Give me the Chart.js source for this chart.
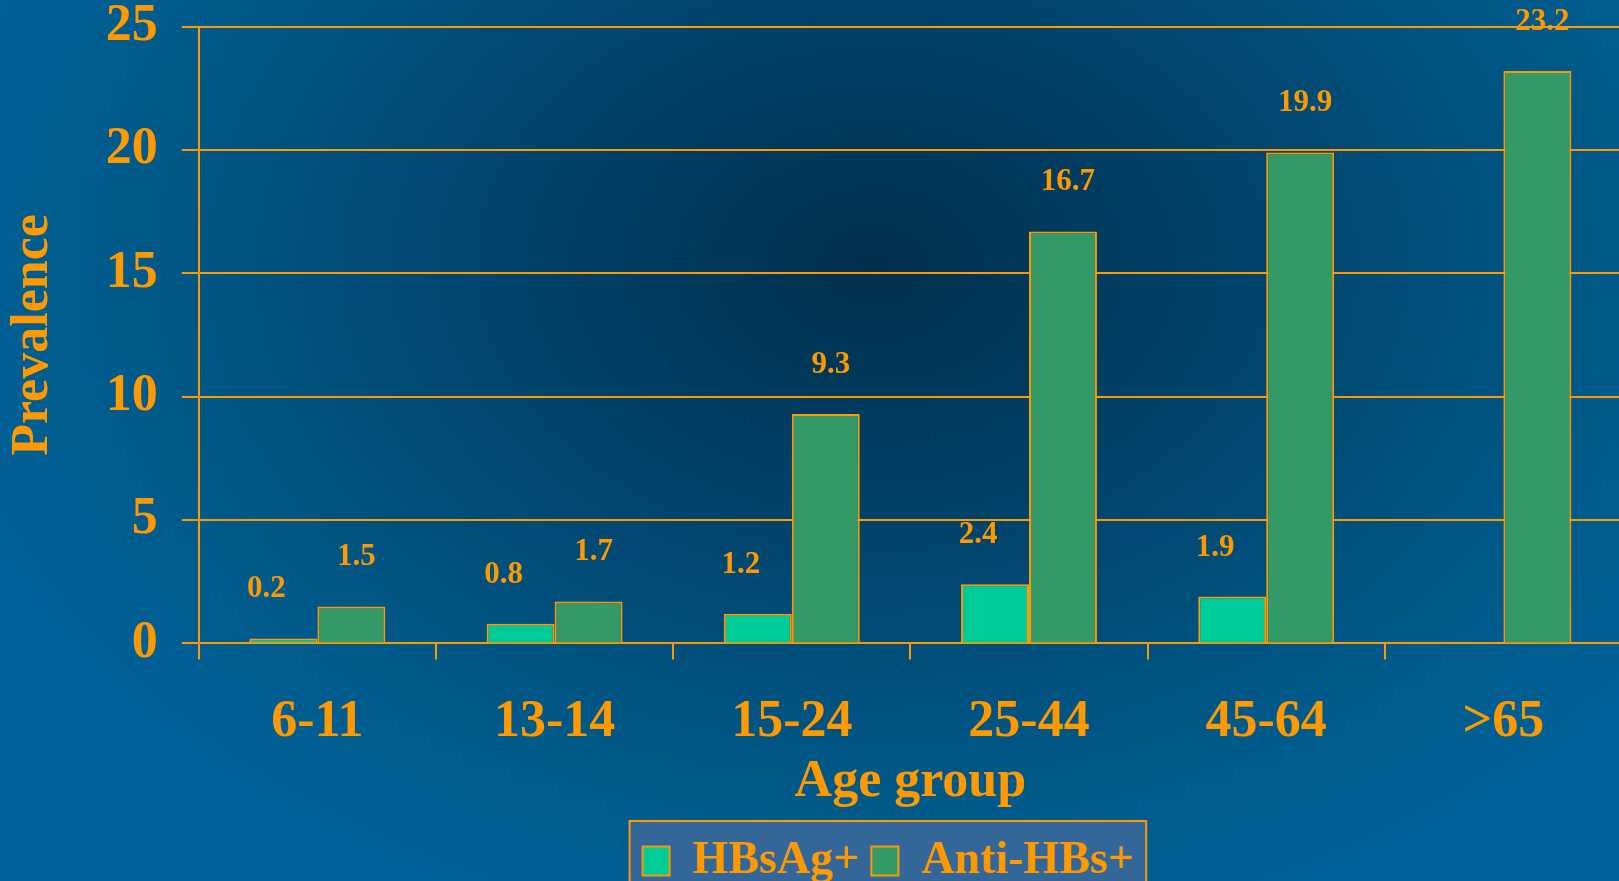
<!DOCTYPE html>
<html>
<head>
<meta charset="utf-8">
<title>Prevalence by age group</title>
<script src="https://cdn.jsdelivr.net/npm/chart.js@4.4.1/dist/chart.umd.min.js"></script>
<style>
    html, body {
        margin: 0;
        padding: 0;
        width: 1619px;
        height: 881px;
        overflow: hidden;
        background: radial-gradient(ellipse 1000px 720px at 54% 30%, #012f4c 0%, #01456e 40%, #005a8a 75%, #00629a 100%);
    }
    #chart-wrap {
        position: absolute;
        left: 0;
        top: 0;
        width: 1622px;
        height: 894px;
    }
</style>
</head>
<body>
<div id="chart-wrap">
    <canvas id="prevalence-chart" width="1622" height="894"></canvas>
</div>
<script>
// Chart data
const ageGroups = ['6-11', '13-14', '15-24', '25-44', '45-64', '>65'];
const hbsagValues = [0.2, 0.8, 1.2, 2.4, 1.9, null];
const antiHbsValues = [1.5, 1.7, 9.3, 16.7, 19.9, 23.2];
const yMin = 0;
const yMax = 25;
const yStep = 5;

const ORANGE = '#FF9900';
const SERIF = "'Liberation Serif', 'Times New Roman', serif";

// Horizontal nudge of the value labels for each series
const labelShift = [-17, 5];

// Draws the number above every bar
const valueLabels = {
    id: 'valueLabels',
    afterDatasetsDraw(chart) {
        const ctx = chart.ctx;
        ctx.save();
        ctx.font = 'bold 31px ' + SERIF;
        ctx.fillStyle = ORANGE;
        ctx.textAlign = 'center';
        ctx.textBaseline = 'middle';
        chart.data.datasets.forEach((ds, i) => {
            const meta = chart.getDatasetMeta(i);
            meta.data.forEach((bar, j) => {
                const v = ds.data[j];
                if (v === null || v === undefined) return;
                ctx.fillText(v.toFixed(1), bar.x + labelShift[i], bar.y - 49);
            });
        });
        ctx.restore();
    }
};

// Moves the legend a little left of the plot centre
const legendShift = {
    id: 'legendShift',
    afterLayout(chart) {
        if (!chart.legend) return;
        chart.legend.left -= 22;
        chart.legend.right -= 22;
    }
};

// Filled, outlined panel behind the legend items
const legendPanel = {
    id: 'legendPanel',
    beforeDraw(chart) {
        const boxes = chart.legend && chart.legend.legendHitBoxes;
        if (!boxes || !boxes.length) return;
        const first = boxes[0];
        const last = boxes[boxes.length - 1];
        const left = first.left - 13;
        const right = last.left + last.width + 12;
        const top = first.top - 17;
        const ctx = chart.ctx;
        ctx.save();
        ctx.fillStyle = '#336699';
        ctx.strokeStyle = ORANGE;
        ctx.lineWidth = 2;
        ctx.fillRect(left, top, right - left, chart.height - top + 10);
        ctx.strokeRect(left, top, right - left, chart.height - top + 10);
        ctx.restore();
    }
};

document.addEventListener('DOMContentLoaded', function() {
    const ctx = document.getElementById('prevalence-chart').getContext('2d');
    new Chart(ctx, {
        type: 'bar',
        data: {
            labels: ageGroups,
            datasets: [
                {
                    label: 'HBsAg+',
                    data: hbsagValues,
                    backgroundColor: '#00CC99',
                    borderColor: ORANGE,
                    borderWidth: 2
                },
                {
                    label: 'Anti-HBs+',
                    data: antiHbsValues,
                    backgroundColor: '#339966',
                    borderColor: ORANGE,
                    borderWidth: 2
                }
            ]
        },
        options: {
            responsive: false,
            animation: false,
            devicePixelRatio: 1,
            categoryPercentage: 0.573,
            barPercentage: 1,
            layout: {
                padding: { top: 0, right: 0, bottom: 0, left: 0 }
            },
            scales: {
                x: {
                    grid: {
                        display: true,
                        drawOnChartArea: false,
                        color: ORANGE,
                        lineWidth: 2,
                        tickLength: 16,
                        offset: true
                    },
                    border: { color: ORANGE, width: 2 },
                    ticks: {
                        color: ORANGE,
                        font: { family: SERIF, size: 52, weight: 'bold', lineHeight: 1.15 },
                        padding: 33,
                        maxRotation: 0
                    },
                    title: {
                        display: true,
                        text: 'Age group',
                        color: ORANGE,
                        font: { family: SERIF, size: 52, weight: 'bold', lineHeight: 0.15 },
                        padding: { top: -7, bottom: 40 }
                    }
                },
                y: {
                    min: yMin,
                    max: yMax,
                    ticks: {
                        stepSize: yStep,
                        color: ORANGE,
                        // small line height keeps the top label from pushing the plot down
                        font: { family: SERIF, size: 52, weight: 'bold', lineHeight: 0.1 },
                        padding: 24
                    },
                    grid: {
                        color: ORANGE,
                        lineWidth: 2,
                        tickLength: 17
                    },
                    border: { color: ORANGE, width: 2 },
                    title: {
                        display: true,
                        text: 'Prevalence',
                        color: ORANGE,
                        font: { family: SERIF, size: 52, weight: 'bold', lineHeight: 1.15 },
                        padding: { top: 4, bottom: 18 }
                    }
                }
            },
            plugins: {
                legend: {
                    display: true,
                    position: 'bottom',
                    fullSize: false,
                    labels: {
                        color: ORANGE,
                        boxWidth: 27,
                        boxHeight: 29,
                        padding: 12,
                        font: { family: SERIF, size: 46, weight: 'bold' }
                    }
                },
                tooltip: { enabled: false }
            }
        },
        plugins: [legendShift, legendPanel, valueLabels]
    });
});
</script>
</body>
</html>
